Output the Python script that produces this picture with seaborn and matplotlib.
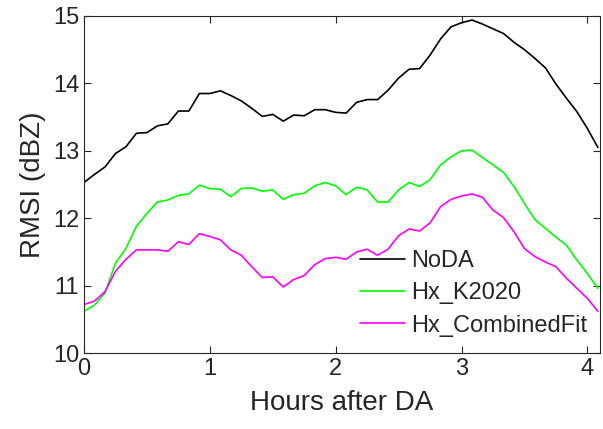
import numpy as np
import pandas as pd
import matplotlib
matplotlib.use("Agg")
import matplotlib.pyplot as plt
import seaborn as sns

# 5-minute steps after DA
hours = np.arange(50) / 12.0

noda = [12.53, 12.65, 12.76, 12.96, 13.06, 13.26, 13.27, 13.37, 13.40, 13.59,
        13.59, 13.85, 13.85, 13.89, 13.82, 13.74, 13.63, 13.51, 13.54, 13.44,
        13.53, 13.52, 13.61, 13.61, 13.57, 13.56, 13.72, 13.76, 13.76, 13.90,
        14.08, 14.21, 14.22, 14.42, 14.66, 14.84, 14.90, 14.94, 14.88, 14.81,
        14.74, 14.61, 14.50, 14.37, 14.23, 13.99, 13.78, 13.58, 13.33, 13.05]
hx_k2020 = [10.62, 10.71, 10.89, 11.33, 11.55, 11.88, 12.07, 12.24, 12.27, 12.34,
            12.36, 12.49, 12.44, 12.43, 12.32, 12.44, 12.45, 12.40, 12.42, 12.28,
            12.35, 12.37, 12.48, 12.53, 12.48, 12.35, 12.46, 12.42, 12.24, 12.24,
            12.42, 12.53, 12.47, 12.57, 12.79, 12.91, 13.00, 13.01, 12.90, 12.79,
            12.68, 12.47, 12.22, 11.98, 11.85, 11.72, 11.60, 11.38, 11.18, 10.96]
hx_combined = [10.72, 10.77, 10.91, 11.21, 11.39, 11.53, 11.53, 11.53, 11.51, 11.65,
               11.61, 11.77, 11.73, 11.68, 11.53, 11.45, 11.28, 11.12, 11.13, 10.98,
               11.09, 11.15, 11.31, 11.40, 11.42, 11.39, 11.50, 11.54, 11.45, 11.54,
               11.74, 11.84, 11.81, 11.93, 12.17, 12.28, 12.33, 12.36, 12.31, 12.12,
               12.01, 11.80, 11.55, 11.43, 11.35, 11.28, 11.11, 10.96, 10.81, 10.62]

labels = ["NoDA", "Hx_K2020", "Hx_CombinedFit"]
colors = ["#000000", "#00ff00", "#ff00ff"]

df = pd.concat([
    pd.DataFrame({"Hours": hours, "RMSI": vals, "Exp": name})
    for name, vals in zip(labels, [noda, hx_k2020, hx_combined])
])

sns.set_style("ticks")
plt.rcParams["font.family"] = ["Liberation Sans", "DejaVu Sans"]
axcol = "#262626"

fig = plt.figure(figsize=(6.03, 4.29), dpi=100)
ax = fig.add_axes([84 / 603, 1 - 353 / 429, 516 / 603, 337 / 429])

sns.lineplot(data=df, x="Hours", y="RMSI", hue="Exp", hue_order=labels,
             palette=colors, linewidth=1.2, ax=ax)

ax.set_xlim(0, 4.1)
ax.set_ylim(10, 15)
ax.set_xticks([0, 1, 2, 3, 4])
ax.set_yticks([10, 11, 12, 13, 14, 15])
ax.set_xlabel("Hours after DA", fontsize=20, color=axcol, labelpad=7)
ax.set_ylabel("RMSI (dBZ)", fontsize=20, color=axcol, labelpad=5)
ax.tick_params(direction="in", length=5, width=0.8, labelsize=17,
               colors=axcol, top=True, right=True)
for s in ax.spines.values():
    s.set_visible(True)
    s.set_color(axcol)
    s.set_linewidth(0.8)

ax.legend(loc="upper left", bbox_to_anchor=(0.535, 0.306), frameon=False,
          fontsize=17, handlelength=1.9, handletextpad=0.25,
          labelspacing=0.44, borderpad=0, borderaxespad=0)

fig.savefig("out.png", dpi=100)
